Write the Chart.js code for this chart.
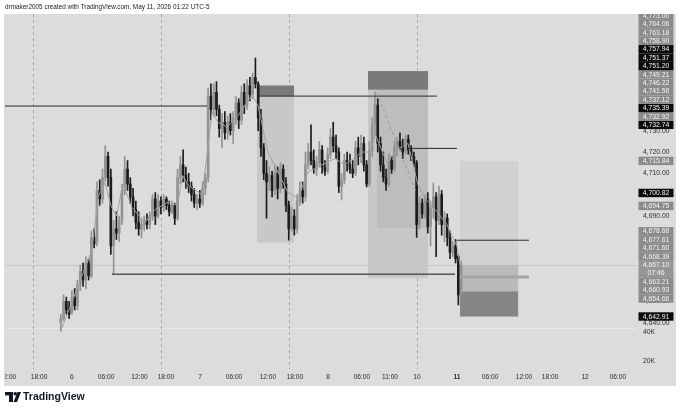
<!DOCTYPE html>
<html><head><meta charset="utf-8">
<script src="https://cdn.jsdelivr.net/npm/chart.js@4/dist/chart.umd.min.js"></script>
<style>html,body{margin:0;padding:0;background:#fff;overflow:hidden}</style>
</head><body>
<canvas id="c" width="680" height="415" style="display:block;width:680px;height:415px"></canvas>
<script>
// ---------- DATA ----------
const firstBar = 10; // bar index of first 30-min candle
const opens = [
4640,4642,4650,4647,4645,4652,4648,4658,4664,4660,
4668,4662,4680,4678,4702,4698,4708,4718,4708,4676,
4684,4682,4688,4702,4712,4705,4699,4693,4687,4684,
4686,4688,4686,4690,4698,4690,4697,4694,4698,4695,
4692,4695,4689,4708,4714,4709,4706,4704,4700,4696,
4698,4696,4703,4708,4746,4740,4748,4740,4731,4734,
4729,4734,4730,4736,4743,4735,4748,4742,4751,4747,
4755,4752,4736,4722,4710,4706,4709,4702,4710,4703,
4712,4705,4695,4684,4690,4684,4697,4702,4699,4714,
4720,4716,4712,4715,4721,4713,4711,4719,4727,4723,
4720,4704,4707,4716,4714,4712,4710,4722,4718,4724,
4714,4705,4721,4733,4742,4724,4714,4708,4705,4716,
4712,4722,4725,4723,4720,4726,4721,4718,4715,4686,
4696,4691,4698,4685,4694,4699,4688,4700,4686,4689,
4680,4673,4676,4671,4653];
const highs = [
4644,4653,4652,4650,4655,4656,4660,4667,4668,4671,
4670,4683,4684,4706,4707,4712,4723,4720,4712,4688,
4692,4690,4705,4718,4716,4708,4703,4697,4692,4689,
4690,4691,4692,4700,4701,4700,4699,4700,4699,4697,
4697,4696,4712,4718,4721,4713,4710,4706,4703,4700,
4702,4706,4710,4750,4752,4752,4753,4742,4738,4739,
4737,4738,4739,4746,4745,4751,4752,4754,4755,4757,
4764.06,4753,4740,4724,4716,4713,4711,4714,4713,4715,
4714,4708,4697,4694,4693,4700,4706,4706,4720,4724,
4732.7,4721,4718,4725,4723,4716,4722,4731,4734,4728,
4722,4710,4719,4720,4719,4716,4725,4727,4728,4727,
4716,4725,4736,4748.2,4745,4727,4720,4712,4719,4718,
4725,4727,4729,4726,4728,4728,4723,4720,4716,4699,
4698,4700,4701,4697,4705.5,4701,4704,4702,4692,4691,
4683,4678,4679,4672,4669];
const lows = [
4636,4641,4644,4642,4644,4646,4646,4655,4657,4656,
4660,4661,4675,4676,4695,4696,4706,4704,4672,4662.5,
4679,4678,4686,4700,4702,4696,4690,4684,4681,4679.7,
4683,4684,4684,4688,4686,4689,4691,4692,4693,4690,
4691,4686,4688,4705,4706,4703,4701,4697,4694,4693,
4694,4695,4700,4706,4735,4737,4737,4727,4722,4726,
4726,4728,4724,4733,4731,4733,4738,4740,4744,4745,
4750,4730,4718,4707,4689,4702,4699,4700,4698,4701,
4703,4692,4678.7,4683,4681,4682,4695,4696,4697,4712,
4714,4710,4709,4713,4710,4709,4710,4717,4720,4717,
4701,4697.5,4705,4711,4710,4708,4709,4714,4715,4711,
4703.6,4704,4718,4728,4720,4711,4706,4702,4704,4710,
4711,4718,4721,4717,4719,4719,4716,4713,4680,4684,
4689,4689,4682,4676,4689,4671,4686,4681,4678,4676,
4670,4671,4668,4648.3,4652];
const closes = [
4642,4650,4646,4644,4652,4648,4658,4664,4660,4668,
4662,4680,4677,4702,4698,4708,4718,4708,4676,4684,
4682,4688,4702,4712,4705,4699,4693,4687,4684,4686,
4688,4686,4690,4698,4690,4697,4694,4698,4695,4692,
4695,4689,4708,4714,4709,4706,4704,4700,4696,4698,
4696,4703,4708,4746,4740,4748,4740,4731,4734,4729,
4734,4730,4736,4743,4735,4748,4742,4751,4747,4755,
4752,4736,4722,4710,4706,4709,4702,4710,4703,4712,
4705,4695,4684,4690,4684,4697,4702,4699,4714,4720,
4716,4712,4715,4721,4713,4711,4719,4727,4723,4720,
4704,4707,4716,4714,4712,4710,4722,4718,4724,4714,
4705,4721,4733,4742,4724,4714,4708,4705,4716,4712,
4722,4725,4723,4720,4726,4721,4718,4715,4686,4696,
4691,4698,4685,4694,4699,4688,4700,4686,4689,4680,
4673,4676,4670,4653,4667.1];

// thin gray trend line (bar index, price)
const maPos = [10.4,21.2,23.4,25.9,28,30,32.4,35.6,40.3,43.9,48.6,52,53.8,55.8,60.8,62.6,64.4,66.5,69.8,73.7,78.8,80.9,84.5,88.1,91.7,95.3,98.9,103.9,108.6,112.2,118.3,121.2,123.2,127.3,130.9,134.9,138.5,141,145.3,148.9,152.5,153.6];
const maVal = [4637.5,4674,4699,4705.5,4695,4690,4705,4694,4687,4693,4696.5,4695,4709,4704.5,4700,4718.6,4738.7,4734,4731.7,4737,4746.7,4742,4720,4710.6,4701,4698.4,4710.6,4714,4717,4714,4720,4720,4728,4715,4721,4724,4704.5,4698.4,4692,4686,4676,4667];

// axis ticks
const priceTicks = [4640,4650,4660,4670,4680,4690,4700,4710,4720,4730,4740,4750,4760,4770,4780];
const timeTickLabels = ['12:00','18:00','6','06:00','12:00','18:00','7','06:00','12:00','18:00','8','06:00','11:00','10','11','06:00','12:00','18:00','12','06:00'];
const timeTickPos = [-9.0,2.2,14.0,26.3,38.3,47.8,60.1,72.3,84.5,94.2,106.1,118.3,128.4,138.1,152.5,164.4,176.6,186.0,198.6,210.4];
const sessionStarts = [0,46,92,138];
const volTicks = [40000,20000];
const volTickLabels = ['40K','20K'];

// price-scale badges
const badgeValues = [4773.00,4764.06,4763.18,4758.90,4757.94,4751.37,4751.20,4749.21,4746.22,4741.56,4737.12,4735.39,4732.92,4732.74,4715.84,4700.82,4694.75,4678.66,4677.61,4671.60,4668.39,4663.21,4660.93,4654.66,4642.91];
const badgeKinds  = ['g','g','g','g','b','b','b','g','g','g','g','b','g','b','g','b','g','g','g','g','g','g','g','g','b'];
const lastPrice = 4667.10;
const countdown = '07:46';

// drawings (bar index / price units)
const zoneFrom   = [80.6, 120.5, 123.7, 153.6, 153.6, 80.6, 120.5, 153.6];
const zoneTo     = [93.9, 142.1, 142.1, 174.5, 174.5, 93.9, 142.1, 174.5];
const zoneTop    = [4746.22, 4749.21, 4749.21, 4715.84, 4667.10, 4751.20, 4757.94, 4654.66];
const zoneBottom = [4677.61, 4660.93, 4684.3, 4642.91, 4654.66, 4746.22, 4749.21, 4642.91];
const zoneKind   = ['light','light','mid','pale','band','dark','dark','dark2'];

const lineFrom  = [-10.1, 80.6, 134.9, 152.5, 28.4, 153.6];
const lineTo    = [62.6, 145.3, 152.5, 178.4, 151.8, 178.4];
const linePrice = [4741.56, 4746.22, 4721.7, 4678.66, 4662.7, 4661.4];
const lineKind  = ['thin','thin','thin','thin','mid','thick'];
const diagFrom = [123.7, 4747.7];
const diagTo   = [137.8, 4701.2];

// ---------- STYLES ----------
const PANEL = '#dcdcdc';
const UP = '#939393', DN = '#1c1c1c';
const zoneFill = {light:'#c8c8c8', mid:'#bdbdbd', pale:'#d1d1d1', band:'#bababa', dark:'#7a7a7a', dark2:'#858585'};
const lineStyle = {thin:['#2a2a2a',1], mid:['#555555',1.5], thick:['#a4a4a4',3]};
const FONT = '"Liberation Sans", Arial, sans-serif';

const idx = opens.map((_, k) => firstBar + k);
const isUp = opens.map((o, k) => closes[k] >= o);
const fmt = v => v.toLocaleString('en-US', {minimumFractionDigits:2, maximumFractionDigits:2});

const deco = {
  id: 'deco',
  beforeDraw(chart) {
    const c = chart.ctx;
    c.save();
    c.fillStyle = '#fff'; c.fillRect(0, 0, chart.width, chart.height);
    c.fillStyle = PANEL; c.fillRect(4, 14, 672, 372);
    c.restore();
  },
  beforeDatasetsDraw(chart) {
    const {ctx: c, chartArea: a, scales: {x, y}} = chart;
    c.save();
    c.beginPath(); c.rect(a.left, a.top, a.right - a.left, a.bottom - a.top); c.clip();
    // pane separator
    c.strokeStyle = '#e8e8e8'; c.lineWidth = 1;
    c.beginPath(); c.moveTo(a.left, a.bottom - 40.5); c.lineTo(a.right, a.bottom - 40.5); c.stroke();
    // session breaks
    c.setLineDash([3, 3]); c.strokeStyle = '#a8a8a8';
    sessionStarts.forEach(s => { const px = Math.round(x.getPixelForValue(s)) + 0.5; c.beginPath(); c.moveTo(px, a.top); c.lineTo(px, a.bottom); c.stroke(); });
    c.setLineDash([]);
    // last price line
    c.strokeStyle = '#c6c6c6';
    const lp = Math.round(y.getPixelForValue(lastPrice)) + 0.5;
    c.beginPath(); c.moveTo(a.left, lp); c.lineTo(a.right, lp); c.stroke();
    // zones
    zoneFrom.forEach((f, k) => {
      const x0 = x.getPixelForValue(f), x1 = x.getPixelForValue(zoneTo[k]);
      const y0 = y.getPixelForValue(zoneTop[k]), y1 = y.getPixelForValue(zoneBottom[k]);
      c.fillStyle = zoneFill[zoneKind[k]];
      c.fillRect(x0, y0, x1 - x0, y1 - y0);
    });
    c.restore();
  },
  afterDatasetsDraw(chart) {
    const {ctx: c, chartArea: a, scales: {x, y}} = chart;
    c.save();
    c.beginPath(); c.rect(a.left, a.top, a.right - a.left, a.bottom - a.top); c.clip();
    lineFrom.forEach((f, k) => {
      const [col, w] = lineStyle[lineKind[k]];
      const py = y.getPixelForValue(linePrice[k]);
      c.strokeStyle = col; c.lineWidth = w;
      c.beginPath(); c.moveTo(x.getPixelForValue(f), py); c.lineTo(x.getPixelForValue(lineTo[k]), py); c.stroke();
    });
    c.setLineDash([3, 3]); c.strokeStyle = '#9a9a9a'; c.lineWidth = 1;
    c.beginPath();
    c.moveTo(x.getPixelForValue(diagFrom[0]), y.getPixelForValue(diagFrom[1]));
    c.lineTo(x.getPixelForValue(diagTo[0]), y.getPixelForValue(diagTo[1]));
    c.stroke(); c.setLineDash([]);
    c.restore();

    // badges on the price scale
    c.save();
    c.beginPath(); c.rect(4, 14, 672, 372); c.clip();
    const H = 8.4, BX = 638.5, BW = 35;
    const ay = y.getPixelForValue(lastPrice);
    const aTop = ay - H / 2, aBot = ay + H * 1.5;
    const items = badgeValues.map((v, k) => ({v, kind: badgeKinds[k], py: y.getPixelForValue(v)}));
    const above = items.filter(b => b.v > lastPrice).sort((p, q) => p.v - q.v);
    const below = items.filter(b => b.v < lastPrice).sort((p, q) => q.v - p.v);
    let prev = aTop;
    above.forEach(b => { b.cy = Math.min(b.py, prev - H / 2); prev = b.cy - H / 2; });
    prev = aBot;
    below.forEach(b => { b.cy = Math.max(b.py, prev + H / 2); prev = b.cy + H / 2; });
    c.textAlign = 'center'; c.textBaseline = 'middle';
    c.font = '6.8px ' + FONT;
    const drawBadge = (cy, h, fill, lines) => {
      c.fillStyle = fill; c.fillRect(BX, cy - H / 2, BW, h);
      c.fillStyle = '#f5f5f5';
      lines.forEach((t, i) => c.fillText(t, BX + BW / 2, cy + i * H + 0.3));
    };
    above.concat(below).forEach(b => drawBadge(b.cy, H, b.kind === 'b' ? '#0b0b0b' : '#8b8b8b', [fmt(b.v)]));
    drawBadge(ay, H * 2, '#969696', [fmt(lastPrice), countdown]);
    c.restore();
  },
  afterDraw(chart) {
    const {ctx: c, chartArea: a, scales: {x, yv}} = chart;
    c.save();
    // time axis labels
    c.beginPath(); c.rect(5, 14, 671, 372); c.clip();
    c.fillStyle = '#2e2e2e'; c.textAlign = 'center'; c.textBaseline = 'middle';
    timeTickPos.forEach((p, k) => {
      const lab = timeTickLabels[k];
      c.font = (lab === '11' ? 'bold ' : '') + '6.6px ' + FONT;
      c.fillText(lab, x.getPixelForValue(p), a.bottom + 8);
    });
    // volume scale labels
    c.textAlign = 'left'; c.font = '6.8px ' + FONT;
    volTicks.forEach((v, k) => c.fillText(volTickLabels[k], 643, yv.getPixelForValue(v)));
    c.restore();
    // header
    c.save();
    c.fillStyle = '#1b1b1b'; c.textBaseline = 'middle'; c.textAlign = 'left';
    c.font = '6.4px ' + FONT;
    c.fillText('drmaker2005 created with TradingView.com, May 11, 2026 01:22 UTC-5', 5, 7.5);
    // footer logo
    c.fillStyle = '#131722';
    c.fillRect(5, 392, 8, 3.4);
    c.fillRect(9, 392, 4, 10);
    c.beginPath(); c.arc(15.2, 393.8, 1.8, 0, Math.PI * 2); c.fill();
    c.beginPath(); c.moveTo(17.5, 392); c.lineTo(21, 392); c.lineTo(17, 402); c.lineTo(13.5, 402); c.closePath(); c.fill();
    c.font = 'bold 10.5px ' + FONT;
    c.fillText('TradingView', 23, 397.5);
    c.restore();
  }
};

new Chart(document.getElementById('c').getContext('2d'), {
  type: 'bar',
  data: {
    datasets: [
      { type: 'line', label: 'trend', data: maPos.map((p, k) => ({x: p, y: maVal[k]})),
        borderColor: '#a2a2a2', borderWidth: 1, pointRadius: 0, tension: 0, order: 0 },
      { label: 'body', data: idx.map((p, k) => ({x: p, y: [opens[k], closes[k]]})),
        backgroundColor: isUp.map(u => u ? UP : DN), barThickness: 2, grouped: false, minBarLength: 1, order: 1 },
      { label: 'wick', data: idx.map((p, k) => ({x: p, y: [lows[k], highs[k]]})),
        backgroundColor: isUp.map(u => u ? UP : DN), barThickness: 1, grouped: false, order: 2 }
    ]
  },
  options: {
    responsive: false, animation: false,
    layout: {padding: {left: 5, top: 14, right: 0, bottom: 46}},
    plugins: {legend: {display: false}, tooltip: {enabled: false}},
    scales: {
      x: {type: 'linear', min: -10.07, max: 216.9, display: false, offset: false},
      y: {
        type: 'linear', position: 'right', min: 4618.3, max: 4784.7,
        afterFit(s) { s.width = 44; },
        afterBuildTicks(s) { s.ticks = priceTicks.map(v => ({value: v})); },
        ticks: {callback: v => fmt(v), color: '#2e2e2e', font: {size: 6.8, family: FONT}, padding: 7},
        grid: {display: false, drawTicks: false}, border: {display: false}
      },
      yv: {type: 'linear', display: false, min: 14483, max: 259311}
    }
  },
  plugins: [deco]
});
</script>
</body></html>
